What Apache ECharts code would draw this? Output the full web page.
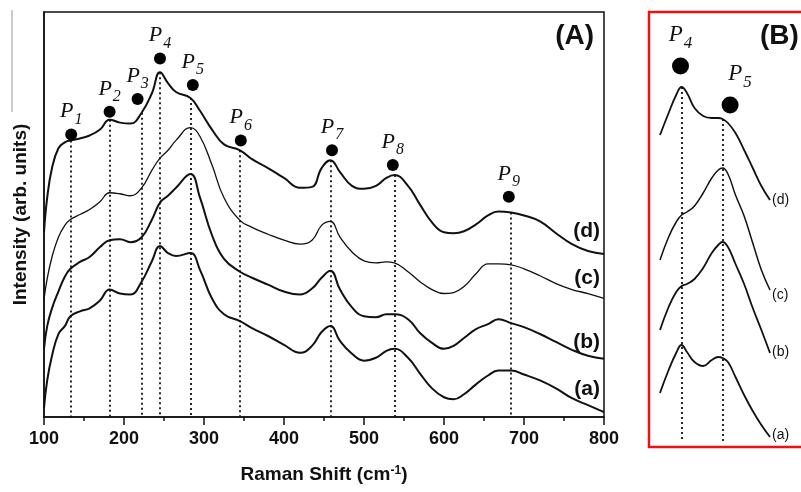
<!DOCTYPE html>
<html>
<head>
<meta charset="utf-8">
<script src="https://cdn.jsdelivr.net/npm/echarts@6/dist/echarts.min.js"></script>
<style>
    html, body { margin: 0; padding: 0; background: #fff; }
    #chart { width: 801px; height: 492px; }
</style>
</head>
<body>
<div id="chart"></div>
<script>
var shifts = [100, 104, 110, 118, 126, 133, 145, 157, 170, 182, 195, 208, 222, 235, 245, 255, 265, 283, 295, 310,
    325, 345, 360, 380, 400, 420, 435, 447, 458, 470, 485, 500, 515, 528, 538, 555, 570, 585, 600, 612,
    625, 640, 655, 668, 684, 700, 720, 740, 760, 780, 800];

// stacked spectra, arbitrary units (offsets included)
var curveD = [187, 222, 252, 272, 278, 280, 282, 285, 291, 301, 298, 297, 308, 328, 349, 338, 329, 323, 310, 291,
    276, 270, 261, 252, 242, 232, 233, 252, 260, 248, 234, 231, 234, 242, 245, 234, 215, 197, 187, 186,
    188, 195, 204, 208, 207, 204, 198, 186, 175, 168, 165];
var curveC = [119, 140, 162, 182, 194, 200, 205, 210, 218, 227, 226, 224, 232, 250, 262, 270, 280, 293, 284, 255,
    222, 199, 192, 185, 179, 175, 179, 194, 198, 182, 167, 158, 156, 157, 156, 147, 137, 129, 125, 126,
    132, 145, 155, 155, 154, 150, 143, 135, 129, 125, 120];
var curveB = [69, 92, 110, 127, 142, 150, 157, 162, 172, 179, 180, 177, 182, 200, 217, 224, 232, 246, 222, 184,
    160, 147, 141, 134, 127, 124, 130, 141, 148, 129, 111, 102, 101, 104, 104, 99, 85, 75, 69, 72,
    80, 89, 94, 99, 95, 91, 84, 76, 68, 62, 59];
var curveA = [9, 37, 62, 84, 92, 102, 107, 110, 118, 129, 125, 124, 137, 158, 173, 166, 163, 166, 149, 120,
    104, 97, 90, 82, 73, 65, 72, 86, 92, 77, 64, 57, 60, 67, 69, 60, 44, 29, 20, 18,
    23, 33, 42, 47, 47, 43, 37, 29, 19, 12, 5];

// peak positions (dotted lines) and the marker dots above them
var peakShifts = [133, 182, 222, 245, 283, 345, 458, 538, 684];
var peakDotShifts = [134, 182, 217, 245, 286, 346, 460, 536, 681];
var peakDotHeights = [286, 309, 322, 363, 336, 280, 270, 255, 223];
var peakNames = ['1', '2', '3', '4', '5', '6', '7', '8', '9'];

var xTicks = [100, 200, 300, 400, 500, 600, 700, 800];

// panel (B): zoom on P4 / P5
var zoomShifts = [225, 233, 240, 245, 250, 257, 265, 273, 279, 283, 288, 295, 303, 311, 319, 327];
var zoomD = [312, 334, 352, 360, 354, 339, 331, 329, 329, 328, 324, 314, 297, 279, 261, 247];
var zoomC = [187, 210, 225, 232, 235, 241, 254, 269, 277, 279, 273, 252, 231, 204, 177, 157];
var zoomB = [117, 140, 155, 161, 163, 168, 179, 194, 202, 205, 200, 183, 163, 139, 117, 94];
var zoomA = [54, 77, 94, 102, 95, 85, 81, 87, 90, 89, 85, 70, 52, 36, 22, 10];
var zoomPeakShifts = [245, 283];
var zoomDotShifts = [244, 290];
var zoomDotHeights = [381, 342];
var zoomPeakNames = ['4', '5'];

var curveLabels = ['(d)', '(c)', '(b)', '(a)'];

var ink = '#111111';

function pairs(xs, ys) {
    return xs.map(function(x, i) {
        return [x, ys[i]];
    });
}

function lineSeries(xs, ys, width, gridIndex) {
    return {
        type: 'line',
        xAxisIndex: gridIndex,
        yAxisIndex: gridIndex,
        data: pairs(xs, ys),
        smooth: 0.45,
        showSymbol: false,
        silent: true,
        lineStyle: { color: ink, width: width },
        z: 3
    };
}

// dotted drop lines from the top spectrum down to the bottom
function dropLines(xs, ys, peaks, bottom) {
    return {
        silent: true,
        symbol: ['none', 'none'],
        label: { show: false },
        lineStyle: { color: ink, type: [2, 3], width: 1.8 },
        data: peaks.map(function(s) {
            return [{ coord: [s, ys[xs.indexOf(s)]] }, { coord: [s, bottom] }];
        })
    };
}

function peakRich(pSize, sSize) {
    return {
        p: { fontFamily: 'Liberation Serif', fontStyle: 'italic', fontSize: pSize, color: ink, lineHeight: pSize + 3, verticalAlign: 'top' },
        s: { fontFamily: 'Liberation Serif', fontStyle: 'italic', fontSize: sSize, color: ink, lineHeight: sSize, padding: [Math.round(pSize * 0.5), 0, 0, 1], verticalAlign: 'top' }
    };
}

var chart = echarts.init(document.getElementById('chart'), null, { renderer: 'canvas' });

var seriesA = [
    lineSeries(shifts, curveD, 2, 0),
    lineSeries(shifts, curveC, 1.3, 0),
    lineSeries(shifts, curveB, 2, 0),
    lineSeries(shifts, curveA, 2, 0)
];
seriesA[0].markLine = dropLines(shifts, curveD, peakShifts, 0);

var dotsA = {
    type: 'scatter',
    xAxisIndex: 0,
    yAxisIndex: 0,
    silent: true,
    symbolSize: 12,
    itemStyle: { color: '#000000', opacity: 1 },
    data: peakDotShifts.map(function(s, i) {
        return { value: [s, peakDotHeights[i]], name: peakNames[i] };
    }),
    label: {
        show: true,
        position: 'top',
        distance: 3,
        formatter: function(p) {
            return '{p|P}{s|' + p.name + '}';
        },
        rich: peakRich(22, 16)
    },
    z: 4
};

var seriesB = [
    lineSeries(zoomShifts, zoomD, 1.8, 1),
    lineSeries(zoomShifts, zoomC, 1.5, 1),
    lineSeries(zoomShifts, zoomB, 1.8, 1),
    lineSeries(zoomShifts, zoomA, 1.8, 1)
];
seriesB[0].markLine = dropLines(zoomShifts, zoomD, zoomPeakShifts, 5);

var dotsB = {
    type: 'scatter',
    xAxisIndex: 1,
    yAxisIndex: 1,
    silent: true,
    symbolSize: 17,
    itemStyle: { color: '#000000', opacity: 1 },
    data: zoomDotShifts.map(function(s, i) {
        return {
            value: [s, zoomDotHeights[i]],
            name: zoomPeakNames[i],
            label: { offset: [i === 1 ? 10 : 0, 0] }
        };
    }),
    label: {
        show: true,
        position: 'top',
        distance: 8,
        formatter: function(p) {
            return '{p|P}{s|' + p.name + '}';
        },
        rich: peakRich(23, 17)
    },
    z: 4
};

var boldText = { fontFamily: 'Liberation Sans', fontWeight: 'bold', fill: ink };

var chartOptions = {
    backgroundColor: '#ffffff',
    animation: false,
    grid: [
        { left: 44, top: 12, right: 197, bottom: 69, show: true, borderColor: ink, borderWidth: 1.5, backgroundColor: 'transparent' },
        { left: 660, top: 12, width: 110, height: 435 }
    ],
    xAxis: [
        {
            type: 'value',
            gridIndex: 0,
            min: 100,
            max: 800,
            interval: 100,
            name: 'Raman Shift (cm{sup|-1})',
            nameLocation: 'middle',
            nameGap: 48,
            nameTextStyle: {
                fontFamily: 'Liberation Sans',
                fontWeight: 'bold',
                fontSize: 19,
                color: ink,
                rich: {
                    sup: { fontFamily: 'Liberation Sans', fontWeight: 'bold', fontSize: 12, color: ink, verticalAlign: 'top', lineHeight: 12, padding: [0, 0, 10, 0] }
                }
            },
            axisLine: { show: true, lineStyle: { color: ink, width: 1.5 } },
            axisTick: { show: true, inside: false, length: 8, lineStyle: { color: ink, width: 1.5 } },
            minorTick: { show: true, splitNumber: 2, length: 4, lineStyle: { color: ink, width: 1.5 } },
            splitLine: { show: false },
            axisLabel: {
                margin: 13,
                fontFamily: 'Liberation Sans',
                fontWeight: 'bold',
                fontSize: 18,
                color: ink,
                customValues: xTicks
            }
        },
        { type: 'value', gridIndex: 1, min: 225, max: 327, show: false }
    ],
    yAxis: [
        {
            type: 'value',
            gridIndex: 0,
            min: 0,
            max: 410,
            name: 'Intensity (arb. units)',
            nameLocation: 'middle',
            nameGap: 14,
            nameTextStyle: { fontFamily: 'Liberation Sans', fontWeight: 'bold', fontSize: 19, color: ink },
            axisLine: { show: true, lineStyle: { color: ink, width: 1.5 } },
            axisTick: { show: false },
            axisLabel: { show: false },
            splitLine: { show: false }
        },
        { type: 'value', gridIndex: 1, min: 0, max: 435, show: false }
    ],
    series: seriesA.concat([dotsA]).concat(seriesB).concat([dotsB]),
    graphic: [
        { type: 'line', shape: { x1: 12, y1: 10, x2: 12, y2: 112 }, style: { stroke: '#999999', lineWidth: 1 } },
        { type: 'text', x: 594, y: 36, style: Object.assign({ text: '(A)', fontSize: 28, textAlign: 'right', textVerticalAlign: 'middle' }, boldText) },
        { type: 'text', x: 600, y: 231, style: Object.assign({ text: curveLabels[0], fontSize: 21, textAlign: 'right', textVerticalAlign: 'middle' }, boldText) },
        { type: 'text', x: 600, y: 278, style: Object.assign({ text: curveLabels[1], fontSize: 21, textAlign: 'right', textVerticalAlign: 'middle' }, boldText) },
        { type: 'text', x: 600, y: 342, style: Object.assign({ text: curveLabels[2], fontSize: 21, textAlign: 'right', textVerticalAlign: 'middle' }, boldText) },
        { type: 'text', x: 600, y: 389, style: Object.assign({ text: curveLabels[3], fontSize: 21, textAlign: 'right', textVerticalAlign: 'middle' }, boldText) },
        { type: 'rect', shape: { x: 649, y: 12, width: 170, height: 435 }, style: { fill: 'none', stroke: '#ee1111', lineWidth: 2.5 } },
        { type: 'text', x: 760, y: 36, style: Object.assign({ text: '(B)', fontSize: 28, textAlign: 'left', textVerticalAlign: 'middle' }, boldText) },
        { type: 'text', x: 772, y: 200, style: { text: curveLabels[0], fontFamily: 'Liberation Sans', fontSize: 14, fill: ink, textVerticalAlign: 'middle' } },
        { type: 'text', x: 772, y: 295, style: { text: curveLabels[1], fontFamily: 'Liberation Sans', fontSize: 14, fill: ink, textVerticalAlign: 'middle' } },
        { type: 'text', x: 772, y: 352, style: { text: curveLabels[2], fontFamily: 'Liberation Sans', fontSize: 14, fill: ink, textVerticalAlign: 'middle' } },
        { type: 'text', x: 772, y: 435, style: { text: curveLabels[3], fontFamily: 'Liberation Sans', fontSize: 14, fill: ink, textVerticalAlign: 'middle' } }
    ]
};

chart.setOption(chartOptions);

window.addEventListener('resize', chart.resize);
</script>
</body>
</html>
